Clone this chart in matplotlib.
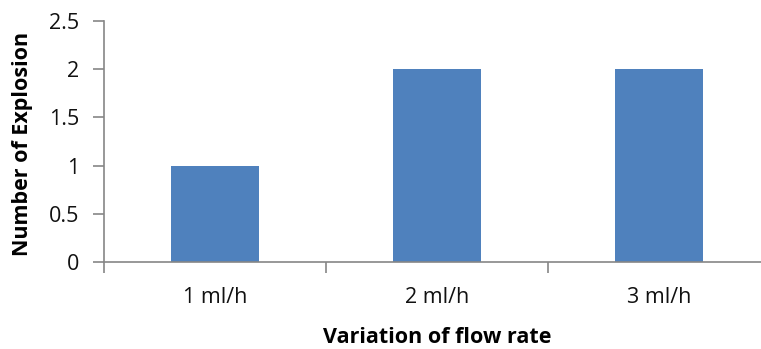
import matplotlib.pyplot as plt

# Explosion counts per flow rate
flow_rates = ['1 ml/h', '2 ml/h', '3 ml/h']
explosions = [1, 2, 2]

plt.rcParams['font.family'] = ['Open Sans', 'DejaVu Sans']

fig = plt.figure(figsize=(7.61, 3.49), dpi=100)
# axis runs off the right edge of the figure
ax = fig.add_axes([104 / 761, 1 - 262 / 349, 666 / 761, 241 / 349])

x = range(len(flow_rates))
ax.bar(x, explosions, width=0.4, color='#4f81bd', zorder=2)

ax.set_xlim(-0.5, 2.5)
ax.set_ylim(0, 2.5)
ax.set_yticks([0, 0.5, 1, 1.5, 2, 2.5])
ax.set_yticklabels(['0', '0.5', '1', '1.5', '2', '2.5'])
ax.set_xticks([-0.5, 0.5, 1.5, 2.5])
ax.set_xticklabels([])
ax.set_xticks(list(x), minor=True)
ax.set_xticklabels(flow_rates, minor=True)
ax.tick_params(axis='x', which='minor', length=0, pad=18, labelsize=15.5, labelcolor='#111111')
ax.tick_params(axis='x', which='major', length=8, color='#868686', width=1.2)
ax.tick_params(axis='y', length=8, color='#868686', width=1.2, labelsize=15.5, pad=10,
               labelcolor='#111111')

for side in ['top', 'right']:
    ax.spines[side].set_visible(False)
for side in ['left', 'bottom']:
    ax.spines[side].set_color('#868686')
    ax.spines[side].set_linewidth(1.2)

ax.set_xlabel('Variation of flow rate', fontsize=15.5, fontweight='bold')
ax.set_ylabel('Number of Explosion', fontsize=15.5, fontweight='bold')
ax.xaxis.set_label_coords((437 - 104) / 666, -65 / 241)
ax.yaxis.set_label_coords((33 - 104) / 666, (262 - 144) / 241)

fig.savefig('out.png', dpi=100)
